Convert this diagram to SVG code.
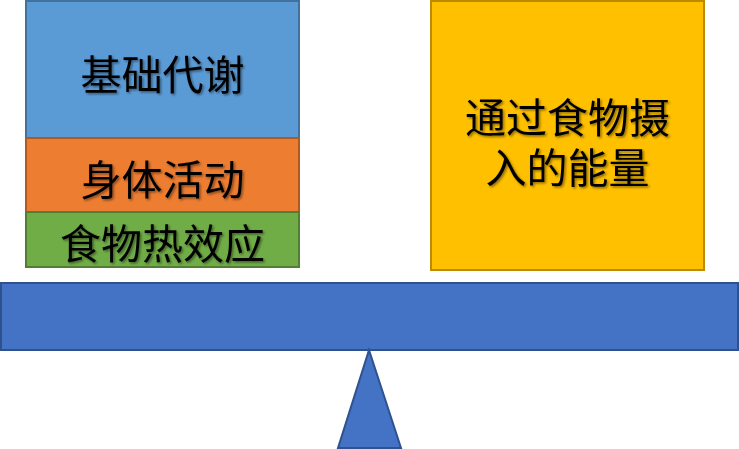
<svg xmlns="http://www.w3.org/2000/svg" width="739" height="449" viewBox="0 0 739 449">
<defs>
<filter id="sh" x="-10%" y="-20%" width="120%" height="150%">
<feDropShadow dx="1.5" dy="1.5" stdDeviation="1" flood-color="#000" flood-opacity="0.45"/>
</filter>
</defs>
<style>
text{font-family:"Noto Sans CJK SC","Microsoft YaHei",sans-serif;font-size:41px;fill:#000;text-anchor:middle;dominant-baseline:central;filter:url(#sh)}
rect,polygon{stroke-width:2}
</style>
<rect width="739" height="449" fill="#fff"/>
<g id="basal">
<rect x="26" y="1" width="273" height="137" fill="#5B9BD5" stroke="#41719C"/>
<text x="162.5" y="72">基础代谢</text>
</g>
<g id="activity">
<rect x="26" y="138" width="273" height="74" fill="#ED7D31" stroke="#AE5A21"/>
<text x="162.5" y="177">身体活动</text>
</g>
<g id="thermic">
<rect x="26" y="212" width="273" height="55" fill="#70AD47" stroke="#507E32"/>
<text x="162.5" y="241">食物热效应</text>
</g>
<g id="intake">
<rect x="431" y="1" width="273" height="269" fill="#FFC000" stroke="#BC8C00"/>
<text x="567.5" y="115"><tspan x="567.5" y="115">通过食物摄</tspan><tspan x="567.5" y="165">入的能量</tspan></text>
</g>
<g id="beam">
<rect x="1" y="283" width="737" height="67" fill="#4472C4" stroke="#2F528F"/>
</g>
<g id="fulcrum">
<polygon points="369,350 401,448 338,448" fill="#4472C4" stroke="#2F528F"/>
</g>
<g id="connectors"/>
</svg>
